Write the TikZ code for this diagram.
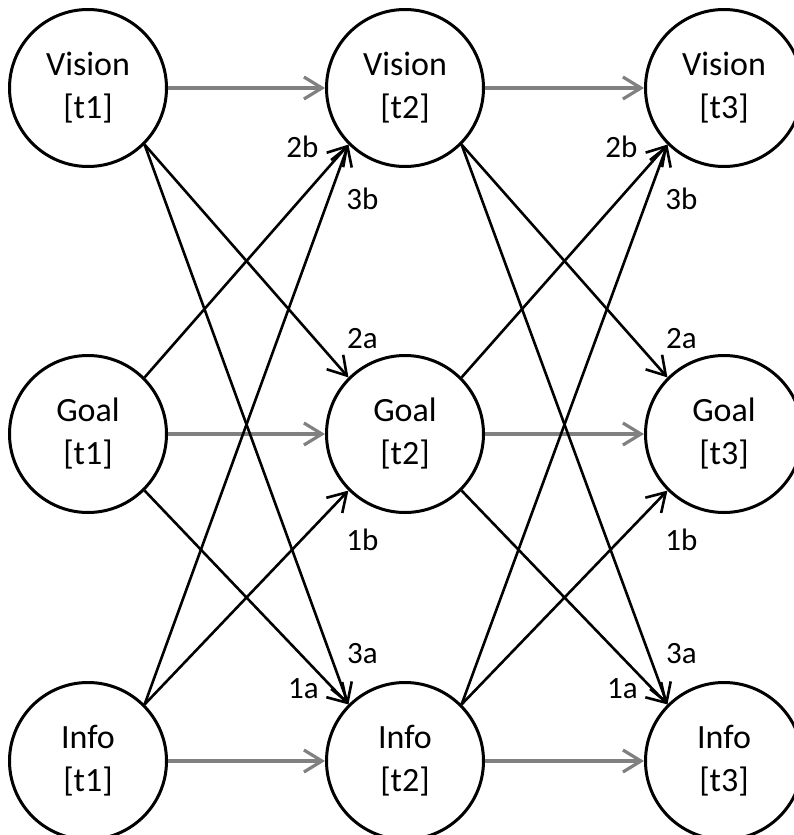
\documentclass[tikz,border=0pt]{standalone}
\usepackage{fontspec}
\setmainfont{Carlito}
\usetikzlibrary{arrows.meta}

\tikzset{
  every unit/.style={draw, circle, line width=3pt, minimum size=157pt,
    inner sep=0pt, align=center, font=\fontsize{34}{43}\selectfont},
  link/.style={line width=2.6pt, -{Straight Barb[length=18pt, width=22pt]}},
  hold/.style={link, draw=gray, line width=3.2pt},
  tag/.style={font=\fontsize{31}{36}\selectfont, inner sep=0pt}
}

\begin{document}
\begin{tikzpicture}[x=1pt, y=-1pt]
  \useasboundingbox (0,0) rectangle (794,835);

  \foreach \m [count=\c] in {88, 405, 724}
  {
    \node [every unit] (vision-\c) at (\m, 88) {Vision\\{[t\c]}};
    \node [every unit] (goal-\c) at (\m, 434) {Goal\\{[t\c]}};
    \node [every unit] (info-\c) at (\m, 761) {Info\\{[t\c]}};
  }

  \foreach \s/\t in {1/2, 2/3}
  {
    % same unit, next step
    \draw [hold] (vision-\s) -- (vision-\t);
    \draw [hold] (goal-\s) -- (goal-\t);
    \draw [hold] (info-\s) -- (info-\t);

    % cross links
    \draw [link] (vision-\s.south east) -- (goal-\t.north west);
    \draw [link] (vision-\s.south east) -- (info-\t.north west);
    \draw [link] (goal-\s.north east) -- (vision-\t.south west);
    \draw [link] (goal-\s.south east) -- (info-\t.north west);
    \draw [link] (info-\s.north east) -- (vision-\t.south west);
    \draw [link] (info-\s.north east) -- (goal-\t.south west);

    \node [tag] (tag2b-\t) at ([shift={(-46,2)}]vision-\t.south west) {2b};
    \node [tag] (tag3b-\t) at ([shift={(14,54)}]vision-\t.south west) {3b};
    \node [tag] (tag2a-\t) at ([shift={(14,-39)}]goal-\t.north west) {2a};
    \node [tag] (tag1b-\t) at ([shift={(14,49)}]goal-\t.south west) {1b};
    \node [tag] (tag3a-\t) at ([shift={(14,-51)}]info-\t.north west) {3a};
    \node [tag] (tag1a-\t) at ([shift={(-45,-16)}]info-\t.north west) {1a};
  }
\end{tikzpicture}
\end{document}
